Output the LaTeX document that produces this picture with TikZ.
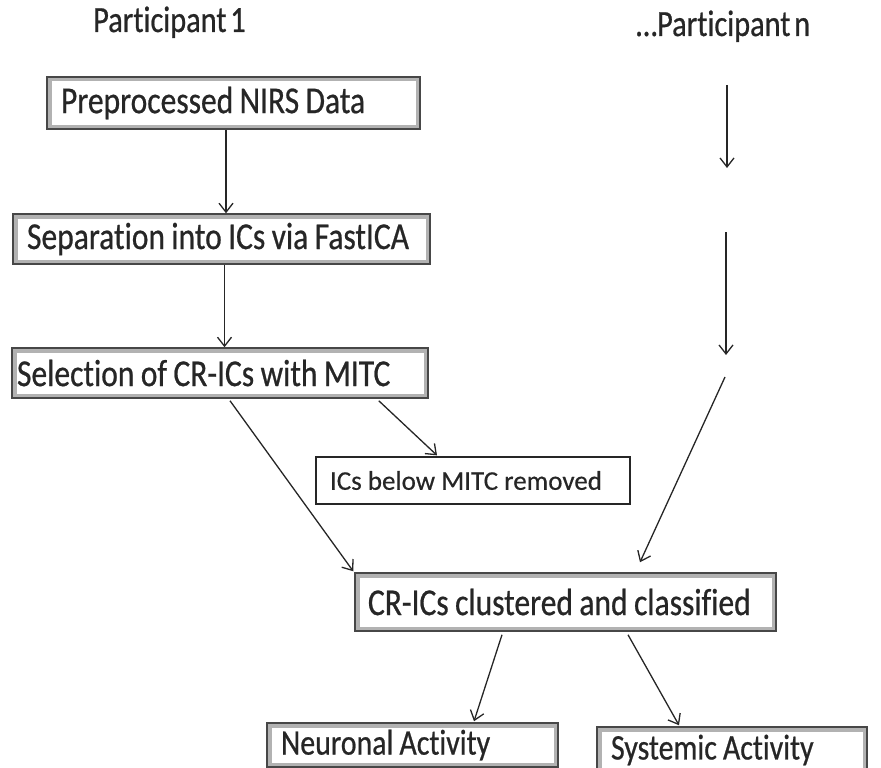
\documentclass[tikz,border=0pt]{standalone}
\usepackage{fontspec}
\setmainfont[Ligatures=NoCommon, FakeBold=0.4]{Carlito}
\newfontfamily\tallfont[FakeStretch=0.82, Ligatures=NoCommon, WordSpace=0.55, FakeBold=0.6]{Carlito}
\newfontfamily\boxfont[FakeStretch=0.83, Ligatures=NoCommon, WordSpace=0.9, FakeBold=0.6]{Carlito}
\usetikzlibrary{arrows.meta,calc}
\newcommand{\oneline}[1]{\makebox[\linewidth][l]{\spaceskip=0pt\xspaceskip=0pt #1}}
\tikzset{
  stepbox/.style={draw=black!72, line width=1.5pt, fill=white, text=black!85,
    font=\boxfont\fontsize{38}{40}\selectfont, inner xsep=14pt, inner ysep=0pt, anchor=center, align=left,
    path picture={\draw[black!30, line width=9pt]
      (path picture bounding box.south west) rectangle (path picture bounding box.north east);}},
  plainbox/.style={draw=black!85, line width=1.3pt, fill=white, text=black!85,
    font=\fontsize{27}{30}\selectfont, inner xsep=14pt, inner ysep=0pt, anchor=center, align=left},
  lbl/.style={text=black!85, font=\tallfont\fontsize{37}{40}\selectfont, inner sep=0pt, anchor=base west},
  arr/.style={draw=black!85, line width=1.3pt, -{Straight Barb[length=9pt,width=14pt,line width=1.3pt]}},
}
\begin{document}
\begin{tikzpicture}[x=1pt,y=-1pt]
\useasboundingbox (0,0) rectangle (881,768);
% labels
\node[lbl] (p1) at (93,32) {Participant 1};
\node[lbl] (pn) at (636,36) {…Participant n};
% boxes
\node[stepbox, minimum height=52pt, text width=345pt] (b1) at (233.5,103) {\oneline{Preprocessed NIRS Data}};
\node[stepbox, minimum height=50pt, text width=389pt] (b2) at (221.5,239) {\oneline{Separation into ICs via FastICA}};
\node[stepbox, minimum height=50pt, text width=406pt, inner xsep=5pt] (b3) at (220,373) {\oneline{Selection of CR-ICs with MITC}};
\node[plainbox, minimum height=47pt, text width=286pt] (ics) at (473,480.5) {\oneline{ICs below MITC removed}};
\node[stepbox, minimum height=58pt, text width=395pt, inner xsep=13pt] (cr) at (565.5,602) {\oneline{CR-ICs clustered and classified}};
\node[stepbox, minimum height=44pt, text width=263pt, font=\boxfont\fontsize{36}{38}\selectfont] (na) at (412.5,745) {\oneline{Neuronal Activity}};
\node[stepbox, minimum height=46pt, text width=242pt, font=\boxfont\fontsize{36}{38}\selectfont] (sa) at (732,750) {\oneline{Systemic Activity}};
% right column coordinates
\coordinate (ra1) at (727,85);
\coordinate (ra2) at (727,168);
\coordinate (rb1) at (726,232);
\coordinate (rb2) at (726,355);
\coordinate (rc1) at (725,377);
% connectors
\draw[arr] ([xshift=-7.5pt]b1.south) -- ([xshift=4.5pt]b2.north);
\draw[arr] ([xshift=3pt]b2.south) -- ([xshift=4.5pt]b3.north);
\draw[arr] ([xshift=10pt,yshift=-2pt]b3.south) -- ([xshift=-1pt,yshift=1pt]cr.north west);
\draw[arr] ([xshift=-50pt,yshift=-2pt]b3.south east) -- ([xshift=-36pt,yshift=1pt]ics.north);
\draw[arr] ([xshift=-63.5pt,yshift=-3pt]cr.south) -- ([xshift=61.5pt,yshift=1pt]na.north);
\draw[arr] ([xshift=62.5pt,yshift=-3pt]cr.south) -- ([xshift=-53pt,yshift=1pt]sa.north);
\draw[arr] (ra1) -- (ra2);
\draw[arr] (rb1) -- (rb2);
\draw[arr] (rc1) -- ([xshift=74.5pt,yshift=10pt]cr.north);
\end{tikzpicture}
\end{document}
